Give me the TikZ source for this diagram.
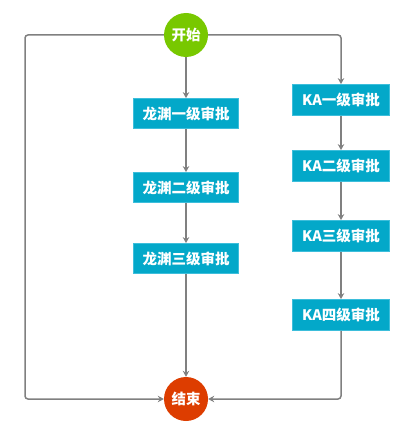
\documentclass[tikz,border=0pt]{standalone}
\usepackage{fontspec}
\newfontfamily\cjk{Noto Sans CJK SC}
\usetikzlibrary{arrows.meta}
\definecolor{boxfill}{HTML}{03A8C9}
\definecolor{boxline}{HTML}{3DBEDB}
\definecolor{startc}{HTML}{78C800}
\definecolor{endc}{HTML}{DD3D00}
\definecolor{linec}{HTML}{808080}
\tikzset{
  stepbox/.style={rectangle, fill=boxfill, draw=boxline, line width=0.8pt, text=white,
    font=\cjk\bfseries\fontsize{14.5}{15}\selectfont, inner sep=0pt},
  lybox/.style={stepbox, minimum width=105pt, minimum height=30pt},
  kabox/.style={stepbox, minimum width=97pt, minimum height=31pt},
  term/.style={circle, text=white, font=\cjk\bfseries\fontsize{14.5}{15}\selectfont, minimum size=44pt, inner sep=0pt},
  conn/.style={draw=linec, line width=1.5pt, -{Stealth[length=6pt,width=6.5pt,inset=2pt]}, rounded corners=3pt},
}
\begin{document}
\begin{tikzpicture}[x=1pt,y=-1pt]
\useasboundingbox (0,0) rectangle (401,425);
\node[term, fill=startc] (start) at (186,35) {开始};
\node[term, fill=endc] (end) at (186,399) {结束};
\node[lybox] (ly1) at (186,113.5) {龙渊一级审批};
\node[lybox] (ly2) at (186,187.5) {龙渊二级审批};
\node[lybox] (ly3) at (186,258.5) {龙渊三级审批};
\node[kabox] (ka1) at (341,100) {KA一级审批};
\node[kabox] (ka2) at (341,166) {KA二级审批};
\node[kabox] (ka3) at (341,236) {KA三级审批};
\node[kabox] (ka4) at (341,315) {KA四级审批};
\coordinate (lt) at (25,35);
\coordinate (lb) at (25,399);
\coordinate (rt) at (341,35);
\coordinate (rb) at (341,399);
\draw[conn] (start) -- (ly1);
\draw[conn] (ly1) -- (ly2);
\draw[conn] (ly2) -- (ly3);
\draw[conn] (ly3) -- (end);
\draw[conn] (start.west) -- (lt) -- (lb) -- (end.west);
\draw[conn] (start.east) -- (rt) -- (ka1.north);
\draw[conn] (ka1) -- (ka2);
\draw[conn] (ka2) -- (ka3);
\draw[conn] (ka3) -- (ka4);
\draw[conn] (ka4.south) -- (rb) -- (end.east);
\end{tikzpicture}
\end{document}
